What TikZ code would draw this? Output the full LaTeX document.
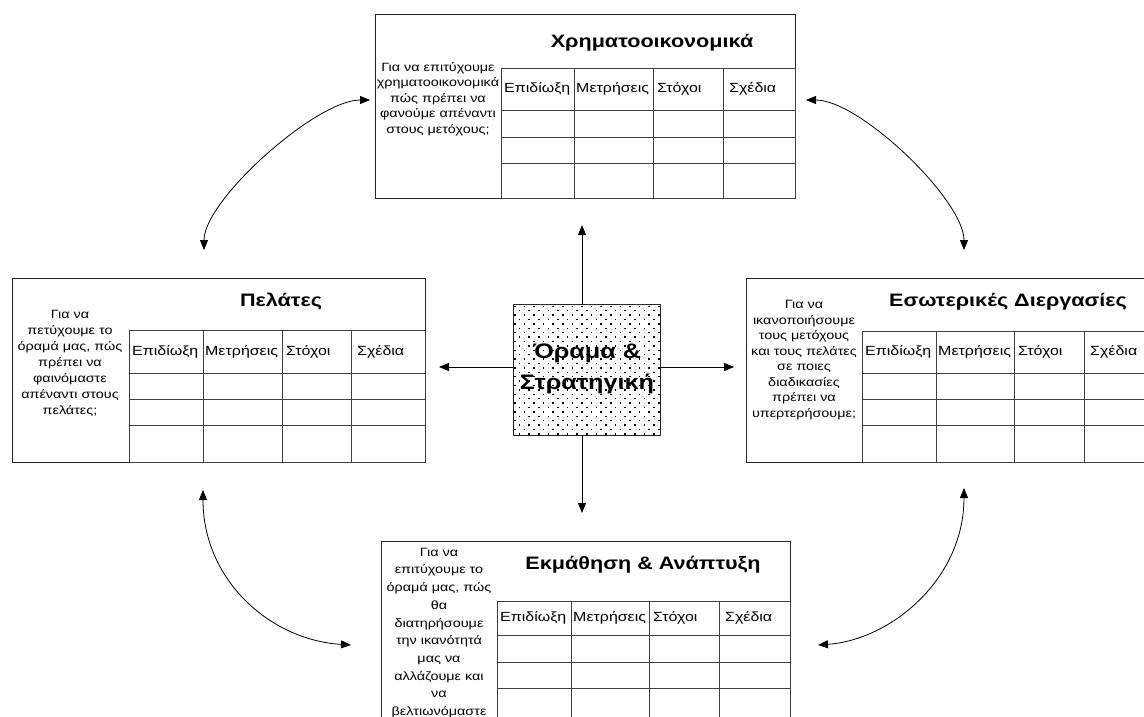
\documentclass[tikz,border=0pt]{standalone}
\usepackage{fontspec}
\setmainfont[FakeStretch=1.2]{Liberation Sans}
\usetikzlibrary{arrows.meta}

% four column headings of a scorecard table: prefix, row centre y, left x of each column
\newcommand\bscheads[6]{%
  \node[head] (#1h1) at (#3+3,#2) {Επιδίωξη};
  \node[head] (#1h2) at (#4+2,#2) {Μετρήσεις};
  \node[head] (#1h3) at (#5+4,#2) {Στόχοι};
  \node[head] (#1h4) at (#6+6,#2) {Σχέδια};
}

\begin{document}
\begin{tikzpicture}[x=1pt,y=-1pt,
  panel/.style={draw=black!85, line width=1pt, fill=white, inner sep=0pt, outer sep=0pt},
  grid/.style={draw=black!75, line width=0.8pt},
  title/.style={font=\fontsize{18}{21}\selectfont\bfseries, inner sep=0pt},
  head/.style={font=\fontsize{13.3}{15}\selectfont, anchor=west, inner sep=0pt},
  side/.style={align=center, inner sep=0pt, font=\fontsize{12}{#1}\selectfont},
  centre/.style={font=\fontsize{21}{31}\selectfont\bfseries, align=center, inner sep=0pt},
  link/.style={line width=0.8pt, {Triangle[length=10pt,width=8pt]}-{Triangle[length=10pt,width=8pt]}},
  ray/.style={line width=0.8pt, -{Triangle[length=10pt,width=8pt]}},
]
\useasboundingbox (0,0) rectangle (1144,717);
\fill[white] (0,0) rectangle (1144,717);
\clip (0,0) rectangle (1144,717);

% ---------- Financial perspective ----------
\node[panel, minimum width=420pt, minimum height=183pt, anchor=north west] (fin) at (375,15) {};
\node[title] (finTitle) at (652,43) {Χρηματοοικονομικά};
\draw[grid] (501,68) rectangle (795,198);
\foreach \x in {574,653,723} \draw[grid] (\x,68) -- (\x,198);
\foreach \y in {110,137,163} \draw[grid] (501,\y) -- (795,\y);
\bscheads{fin}{89}{501}{574}{653}{723}
\node[side=15.5] (finText) at (438,99) {Για να επιτύχουμε\\χρηματοοικονομικά\\πώς πρέπει να\\φανούμε απέναντι\\στους μετόχους;};

% ---------- Customer perspective ----------
\node[panel, minimum width=413pt, minimum height=184pt, anchor=north west] (cust) at (12,278) {};
\node[title] (custTitle) at (281,302) {Πελάτες};
\draw[grid] (129,330) rectangle (425,462);
\foreach \x in {203,282,351} \draw[grid] (\x,330) -- (\x,462);
\foreach \y in {373,399,425} \draw[grid] (129,\y) -- (425,\y);
\bscheads{cust}{352}{129}{203}{282}{351}
\node[side=16] (custText) at (70,363) {Για να\\πετύχουμε το\\όραμά μας, πώς\\πρέπει να\\φαινόμαστε\\απέναντι στους\\πελάτες;};

% ---------- Internal process perspective ----------
\node[panel, minimum width=412pt, minimum height=184pt, anchor=north west] (proc) at (746,278) {};
\node[title] (procTitle) at (1008,302) {Εσωτερικές Διεργασίες};
\draw[grid] (862,331) rectangle (1158,462);
\foreach \x in {936,1014,1084} \draw[grid] (\x,331) -- (\x,462);
\foreach \y in {373,399,425} \draw[grid] (862,\y) -- (1158,\y);
\bscheads{proc}{352}{862}{936}{1014}{1084}
\node[side=15.5] (procText) at (804,360) {Για να\\ικανοποιήσουμε\\τους μετόχους\\και τους πελάτες\\σε ποιες\\διαδικασίες\\πρέπει να\\υπερτερήσουμε;};

% ---------- Learning and growth perspective ----------
\node[panel, minimum width=409pt, minimum height=200pt, anchor=north west] (learn) at (381,541) {};
\node[title] (learnTitle) at (643,565) {Εκμάθηση \& Ανάπτυξη};
\draw[grid] (497,601) rectangle (790,741);
\foreach \x in {571,649,719} \draw[grid] (\x,601) -- (\x,741);
\foreach \y in {635,662,688} \draw[grid] (497,\y) -- (790,\y);
\bscheads{learn}{618}{497}{571}{649}{719}
\node[side=17.7] (learnText) at (439,633) {Για να\\επιτύχουμε το\\όραμά μας, πώς\\θα\\διατηρήσουμε\\την ικανότητά\\μας να\\αλλάζουμε και\\να\\βελτιωνόμαστε};

% ---------- Vision and strategy ----------
\begin{scope}
  \clip (513,304) rectangle (660,435);
  \foreach \j [evaluate=\j as \off using {mod(\j,2)*4.8}] in {0,...,30}
    \foreach \i in {0,...,16}
      \fill ({514+\i*9.6+\off},{305.5+\j*4.4}) rectangle +(1.5,1.5);
\end{scope}
\node[draw=black!85, line width=1pt, minimum width=147pt, minimum height=131pt,
      inner sep=0pt, outer sep=0pt, anchor=north west] (vision) at (513,304) {};
\node[centre] (visionText) at (587,369) {Όραμα \&\\Στρατηγική};

% arrows from the centre
\coordinate (up) at (582,225);
\coordinate (dn) at (582,513);
\coordinate (lf) at (439,367);
\coordinate (rt) at (734,367);
\draw[ray] (vision.north -| up) -- (up);
\draw[ray] (vision.south -| dn) -- (dn);
\draw[ray] (vision.west |- lf) -- (lf);
\draw[ray] (vision.east |- rt) -- (rt);

% curved two-way links between neighbouring perspectives
\coordinate (finL) at (370,100);
\coordinate (custT) at (204,250);
\coordinate (finR) at (806,100);
\coordinate (procT) at (964,250);
\coordinate (custB) at (203,490);
\coordinate (learnL) at (351,645);
\coordinate (procB) at (964,488);
\coordinate (learnR) at (818,645);
\draw[link] (custT) .. controls (204,200) and (316,100) .. (finL);
\draw[link] (finR) .. controls (860,100) and (964,200) .. (procT);
\draw[link] (custB) .. controls (203,580) and (270,640) .. (learnL);
\draw[link] (procB) .. controls (964,580) and (890,640) .. (learnR);
\end{tikzpicture}
\end{document}
